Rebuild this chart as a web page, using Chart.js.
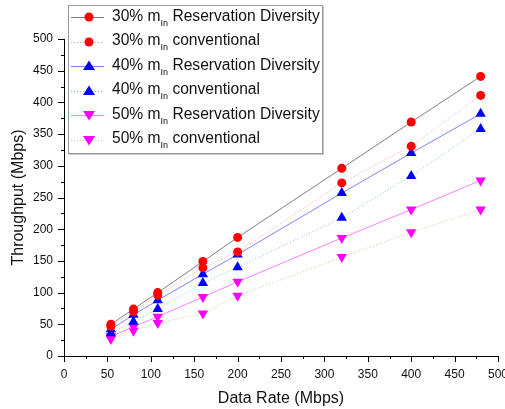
<!DOCTYPE html>
<html>
<head>
<meta charset="utf-8">
<script src="https://cdn.jsdelivr.net/npm/chart.js@4"></script>
<style>
  body { margin: 0; background: #fff; }
  #wrap { position: relative; width: 505px; height: 409px; }
  #legend {
    position: absolute; left: 68px; top: 5px; width: 253px; height: 147px;
    border: 1px solid #999; box-shadow: 1px 1px 0 #c8c8c8; background: #fff;
    font-family: "Liberation Sans", Arial, sans-serif; font-size: 15.6px; color: #111;
  }
  .row { position: absolute; left: 0; height: 24px; display: flex; align-items: center; white-space: nowrap; }
  .row svg { margin-left: 1px; margin-right: 8px; }
  .row sub { font-size: 9px; vertical-align: -5px; }
</style>
</head>
<body>
<div id="wrap">
  <canvas id="chart" width="505" height="409"></canvas>
  <div id="legend"></div>
</div>
<script>
// data rates (Mbps)
const dataRates = [54, 80, 108, 160, 200, 320, 400, 480];

// throughput (Mbps)
const rd30 = [50, 74, 100, 149, 187, 296, 369, 441];
const cv30 = [47, 70, 96, 139, 164, 273, 331, 411];
const rd40 = [42, 65, 88, 129, 160, 257, 320, 382];
const cv40 = [36, 54, 74, 115, 140, 218, 284, 358];
const rd50 = [31, 46, 62, 93, 117, 186, 231, 277];
const cv50 = [27, 40, 52, 67, 95, 156, 195, 231];

const seriesNames = [
  ['30%', 'Reservation Diversity'],
  ['30%', 'conventional'],
  ['40%', 'Reservation Diversity'],
  ['40%', 'conventional'],
  ['50%', 'Reservation Diversity'],
  ['50%', 'conventional']
];

const axisTicks = [0, 50, 100, 150, 200, 250, 300, 350, 400, 450, 500];

const styles = [
  { line: '#808080', dash: [], marker: '#ff0000', shape: 'circle', rot: 0 },
  { line: '#ff9a9a', dash: [1, 2], marker: '#ff0000', shape: 'circle', rot: 0 },
  { line: '#8080ff', dash: [], marker: '#0000ff', shape: 'triangle', rot: 0 },
  { line: '#80c8c0', dash: [1, 2], marker: '#0000ff', shape: 'triangle', rot: 0 },
  { line: '#ff80ff', dash: [], marker: '#ff00ff', shape: 'triangle', rot: 180 },
  { line: '#c8c890', dash: [1, 2], marker: '#ff00ff', shape: 'triangle', rot: 180 }
];

const allSeries = [rd30, cv30, rd40, cv40, rd50, cv50];

const datasets = allSeries.map((vals, i) => ({
  label: seriesNames[i][0] + ' m In ' + seriesNames[i][1],
  data: vals.map((v, j) => ({ x: dataRates[j], y: v })),
  borderColor: styles[i].line,
  borderWidth: 1,
  borderDash: styles[i].dash,
  backgroundColor: styles[i].marker,
  pointBackgroundColor: styles[i].marker,
  pointBorderColor: styles[i].marker,
  pointBorderWidth: 0,
  pointStyle: styles[i].shape,
  pointRotation: styles[i].rot,
  pointRadius: styles[i].shape === 'circle' ? 4.5 : 6,
  tension: 0
}));

// outward major / minor ticks
const tickMarks = {
  id: 'tickMarks',
  afterDraw(chart) {
    const ctx = chart.ctx;
    const x = chart.scales.x, y = chart.scales.y;
    const a = chart.chartArea;
    ctx.save();
    ctx.strokeStyle = '#000';
    ctx.lineWidth = 1;
    for (let v = 0; v <= 500; v += 25) {
      const len = v % 50 === 0 ? 6 : 3;
      const px = Math.round(x.getPixelForValue(v)) + 0.5;
      ctx.beginPath(); ctx.moveTo(px, a.bottom); ctx.lineTo(px, a.bottom + len); ctx.stroke();
      const py = Math.round(y.getPixelForValue(v)) + 0.5;
      ctx.beginPath(); ctx.moveTo(a.left, py); ctx.lineTo(a.left - len, py); ctx.stroke();
    }
    ctx.restore();
  }
};

const font = 'Liberation Sans';

new Chart(document.getElementById('chart'), {
  type: 'line',
  data: { datasets },
  options: {
    responsive: false,
    animation: false,
    layout: { padding: { top: 39, right: 7, bottom: 0, left: 0 } },
    plugins: { legend: { display: false }, tooltip: { enabled: false } },
    scales: {
      x: {
        type: 'linear', min: 0, max: 500,
        afterBuildTicks: s => { s.ticks = axisTicks.map(v => ({ value: v })); },
        afterFit: s => { s.height = 53; s.paddingLeft = 0; s.paddingRight = 0; },
        grid: { display: false },
        border: { display: true, color: '#000', width: 1 },
        ticks: { autoSkip: false, maxRotation: 0, padding: 3, color: '#111', font: { family: font, size: 12 } },
        title: { display: true, text: 'Data Rate (Mbps)', color: '#111', font: { family: font, size: 16 }, padding: { top: 4, bottom: 1 } }
      },
      y: {
        type: 'linear', min: 0, max: 500,
        afterBuildTicks: s => { s.ticks = axisTicks.map(v => ({ value: v })); },
        afterFit: s => { s.width = 64; s.paddingTop = 0; s.paddingBottom = 0; },
        grid: { display: false },
        border: { display: true, color: '#000', width: 1 },
        ticks: { autoSkip: false, padding: 3, color: '#111', font: { family: font, size: 12 } },
        title: { display: true, text: 'Throughput (Mbps)', color: '#111', font: { family: font, size: 16 }, padding: { top: 9, bottom: 0 } }
      }
    }
  },
  plugins: [tickMarks]
});

// legend with subscript text
const legend = document.getElementById('legend');
seriesNames.forEach((n, i) => {
  const s = styles[i];
  const row = document.createElement('div');
  row.className = 'row';
  row.style.top = (-1 + i * 24.5) + 'px';
  let mark;
  if (s.shape === 'circle') {
    mark = `<circle cx="19" cy="12" r="4.5" fill="${s.marker}"/>`;
  } else if (s.rot === 0) {
    mark = `<polygon points="19,6.5 25,16 13,16" fill="${s.marker}"/>`;
  } else {
    mark = `<polygon points="13,8 25,8 19,17.5" fill="${s.marker}"/>`;
  }
  const dash = s.dash.length ? `stroke-dasharray="${s.dash.join(' ')}"` : '';
  row.innerHTML =
    `<svg width="34" height="24"><line x1="1" y1="12.5" x2="34" y2="12.5" stroke="${s.line}" stroke-width="1" ${dash}/>${mark}</svg>` +
    `<span>${n[0]} m<sub>In</sub> ${n[1]}</span>`;
  legend.appendChild(row);
});
</script>
</body>
</html>
